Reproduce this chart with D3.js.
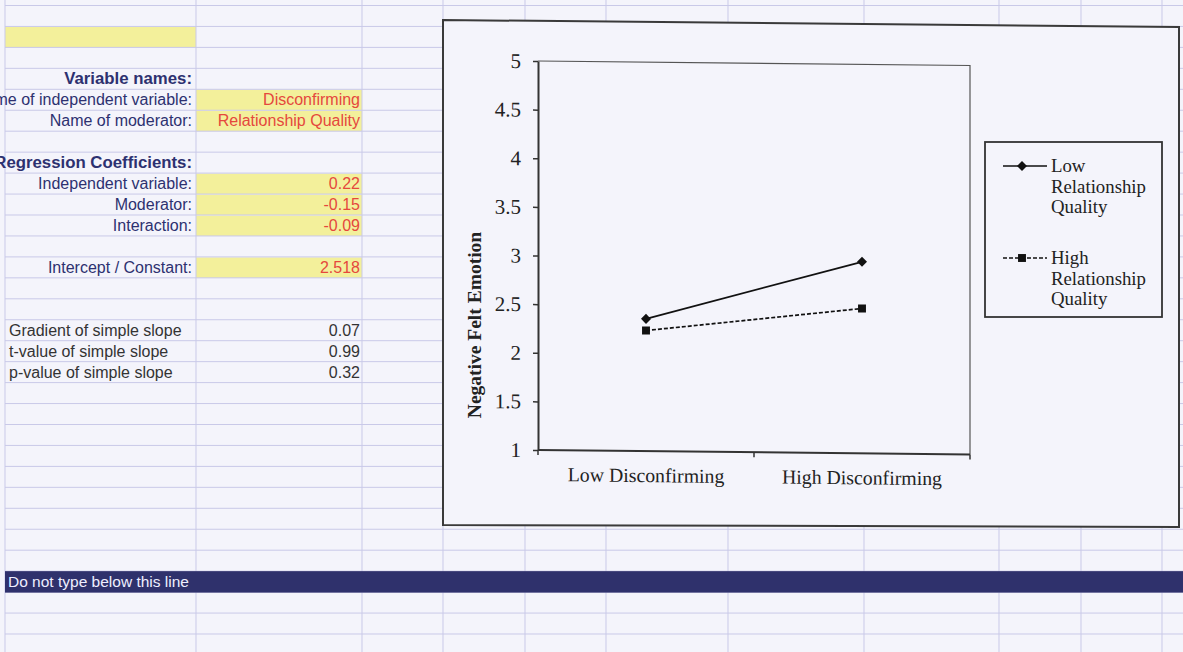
<!DOCTYPE html>
<html><head><meta charset="utf-8">
<script src="https://cdn.jsdelivr.net/npm/d3@7"></script>
<style>
html,body{margin:0;padding:0;background:#f4f4fb;}
svg{display:block;}
</style></head>
<body>
<svg id="c" width="1183" height="652"></svg>
<script>
// ---------- data ----------
const categories = ["Low Disconfirming", "High Disconfirming"];
const seriesNames = ["Low Relationship Quality", "High Relationship Quality"];
const lowRelationshipQuality = [2.36, 2.97];
const highRelationshipQuality = [2.24, 2.49];
const yTickValues = [1, 1.5, 2, 2.5, 3, 3.5, 4, 4.5, 5];
const yAxisTitle = "Negative Felt Emotion";

const headingLabels = ["Variable names:", "Regression Coefficients:"];
const nameLabels = ["Name of independent variable:", "Name of moderator:"];
const nameValues = ["Disconfirming", "Relationship Quality"];
const coefLabels = ["Independent variable:", "Moderator:", "Interaction:"];
const coefValues = ["0.22", "-0.15", "-0.09"];
const interceptLabels = ["Intercept / Constant:"];
const interceptValues = ["2.518"];
const slopeLabels = ["Gradient of simple slope", "t-value of simple slope", "p-value of simple slope"];
const slopeValues = ["0.07", "0.99", "0.32"];
const bandText = "Do not type below this line";

// ---------- styles ----------
const BG = "#f4f4fb", GRID = "#c9c9e8", YELLOW = "#f3f09b";
const NAVY = "#2d3170", RED = "#e5483d", DARK = "#333";
const SANS = "'Liberation Sans', Arial, sans-serif";
const SERIF = "'Liberation Serif', 'Times New Roman', serif";

const svg = d3.select("#c");
svg.append("rect").attr("width", 1183).attr("height", 652).attr("fill", BG);

// ---------- spreadsheet grid ----------
const ROW0 = 5.5, ROWH = 20.95, NROWS = 31;
const rowY = k => ROW0 + k * ROWH;
const colX = [5, 196, 362, 443, 525, 606, 728, 864, 999, 1081, 1162];
const yellowCells = [[5, 196, 1], [196, 362, 4], [196, 362, 5], [196, 362, 8], [196, 362, 9], [196, 362, 10], [196, 362, 12]];

svg.append("g").selectAll("rect").data(yellowCells).join("rect")
  .attr("x", d => d[0]).attr("y", d => rowY(d[2]) + 0.5)
  .attr("width", d => d[1] - d[0]).attr("height", ROWH - 0.5)
  .attr("fill", YELLOW);

const grid = svg.append("g").attr("stroke", GRID).attr("stroke-width", 1);
grid.selectAll("line.h").data(d3.range(NROWS)).join("line").attr("class", "h")
  .attr("x1", 5).attr("x2", 1183).attr("y1", k => rowY(k)).attr("y2", k => rowY(k));
grid.selectAll("line.v").data(colX).join("line").attr("class", "v")
  .attr("x1", d => d).attr("x2", d => d).attr("y1", 0).attr("y2", 652);

// band
svg.append("rect").attr("x", 5).attr("y", rowY(27)).attr("width", 1178).attr("height", ROWH + 0.5)
  .attr("fill", "#2f316c");
svg.append("text").attr("x", 8).attr("y", rowY(27) + ROWH / 2 + 5.5)
  .attr("font-family", SANS).attr("font-size", 15.5).attr("fill", "#eef").text(bandText);

// left panel text
const txt = svg.append("g").attr("font-family", SANS).attr("font-size", 16);
function rightRows(labels, rows, color, bold, xr) {
  txt.append("g").selectAll("text").data(labels).join("text")
    .attr("x", xr).attr("y", (d, i) => rowY(rows[i]) + ROWH / 2 + 5.5)
    .attr("text-anchor", "end").attr("fill", color)
    .attr("font-size", bold ? 16.8 : 16)
    .attr("font-weight", bold ? "bold" : "normal").text(d => d);
}
rightRows(headingLabels, [3, 7], NAVY, true, 192);
rightRows(nameLabels, [4, 5], NAVY, false, 192);
rightRows(nameValues, [4, 5], RED, false, 360);
rightRows(coefLabels, [8, 9, 10], NAVY, false, 192);
rightRows(coefValues, [8, 9, 10], RED, false, 360);
rightRows(interceptLabels, [12], NAVY, false, 192);
rightRows(interceptValues, [12], RED, false, 360);
rightRows(slopeValues, [15, 16, 17], DARK, false, 360);
txt.append("g").selectAll("text").data(slopeLabels).join("text")
  .attr("x", 9).attr("y", (d, i) => rowY(15 + i) + ROWH / 2 + 5.5)
  .attr("fill", DARK).text(d => d);

// ---------- chart frame ----------
svg.append("path")
  .attr("d", "M443,20 L1179,27 L1179,527 L443,525 Z")
  .attr("fill", BG).attr("stroke", "#3a3a3a").attr("stroke-width", 2);

// ---------- plot ----------
const plotL = 538, plotR = 970, plotT = 61, plotB = 450;
const x = d3.scaleBand().domain(categories).range([plotL, plotR]);
const y = d3.scaleLinear().domain([1, 5]).range([plotB, plotT]);

const plot = svg.append("g")
  .attr("transform", `translate(${plotL},0) skewY(0.6) translate(${-plotL},0)`);

// plot area frame (top & right)
plot.append("path")
  .attr("d", `M${plotL},${plotT} L${plotR},${plotT} L${plotR},${plotB}`)
  .attr("fill", "none").attr("stroke", "#555").attr("stroke-width", 1.2);

// y axis
const yAxis = plot.append("g").attr("transform", `translate(${plotL},0)`)
  .call(d3.axisLeft(y).tickValues(yTickValues).tickSize(5).tickSizeOuter(0).tickPadding(12).tickFormat(d3.format("")));
yAxis.select(".domain").attr("stroke", "#333").attr("stroke-width", 2);
yAxis.selectAll(".tick line").attr("stroke", "#333").attr("stroke-width", 1.5);
yAxis.selectAll(".tick text").attr("font-family", SERIF).attr("font-size", 21).attr("fill", "#222");

// x axis
const xAxisG = plot.append("g");
xAxisG.append("line").attr("x1", plotL).attr("x2", plotR).attr("y1", plotB).attr("y2", plotB)
  .attr("stroke", "#333").attr("stroke-width", 2);
const boundaries = [x(categories[0]), x(categories[1]), x(categories[1]) + x.bandwidth()];
xAxisG.selectAll("line.t").data(boundaries).join("line").attr("class", "t")
  .attr("x1", d => d).attr("x2", d => d).attr("y1", plotB).attr("y2", plotB + 5)
  .attr("stroke", "#333").attr("stroke-width", 1.5);
xAxisG.selectAll("text").data(categories).join("text")
  .attr("x", d => x(d) + x.bandwidth() / 2).attr("y", plotB + 31)
  .attr("text-anchor", "middle").attr("font-family", SERIF).attr("font-size", 19.8).attr("fill", "#222")
  .text(d => d);

// series
const cx = c => x(c) + x.bandwidth() / 2;
const line = d3.line().x((d, i) => cx(categories[i])).y(d => y(d));
const series = [
  {name: seriesNames[0], values: lowRelationshipQuality, dash: null, marker: "diamond"},
  {name: seriesNames[1], values: highRelationshipQuality, dash: "4,2", marker: "square"}
];
const markerPath = (m) => m === "diamond"
  ? d3.symbol().type(d3.symbolDiamond2).size(64)()
  : d3.symbol().type(d3.symbolSquare2).size(80)();

series.forEach(s => {
  plot.append("path").datum(s.values).attr("d", line)
    .attr("fill", "none").attr("stroke", "#111").attr("stroke-width", 1.7)
    .attr("stroke-dasharray", s.dash);
  plot.append("g").selectAll("path").data(s.values).join("path")
    .attr("d", markerPath(s.marker))
    .attr("transform", (d, i) => `translate(${cx(categories[i])},${y(d)})`)
    .attr("fill", "#111");
});

// y title
svg.append("text")
  .attr("transform", "translate(481,325) rotate(-90)")
  .attr("text-anchor", "middle").attr("font-family", SERIF).attr("font-weight", "bold")
  .attr("font-size", 19.5).attr("fill", "#222").text(yAxisTitle);

// ---------- legend ----------
const lg = svg.append("g");
lg.append("rect").attr("x", 985).attr("y", 142).attr("width", 177).attr("height", 175)
  .attr("fill", BG).attr("stroke", "#333").attr("stroke-width", 1.8);
const legendTop = [166, 258];
series.forEach((s, i) => {
  const ly = legendTop[i];
  lg.append("line").attr("x1", 1003).attr("x2", 1047).attr("y1", ly).attr("y2", ly)
    .attr("stroke", "#111").attr("stroke-width", 1.5).attr("stroke-dasharray", s.dash);
  lg.append("path").attr("d", markerPath(s.marker)).attr("transform", `translate(1022,${ly})`).attr("fill", "#111");
  const words = s.name.split(" ");
  const lines = [words[0], words[1], words.slice(2).join(" ")];
  lg.append("g").selectAll("text").data(lines).join("text")
    .attr("x", 1051).attr("y", (d, j) => ly + 6 + j * 20.5)
    .attr("font-family", SERIF).attr("font-size", 18.8).attr("fill", "#222").text(d => d);
});
</script>
</body></html>
